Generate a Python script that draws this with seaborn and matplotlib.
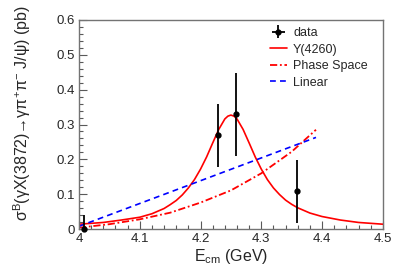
import numpy as np
import pandas as pd
import seaborn as sns
import matplotlib.pyplot as plt
from matplotlib.ticker import MultipleLocator, FuncFormatter

# measured points
energy = [4.009, 4.229, 4.259, 4.359]
xsec = [0.0, 0.269, 0.329, 0.108]
xsec_err = [0.04, 0.09, 0.12, 0.09]

# Y(4260) fit curve
y4260_e = [4.00, 4.04, 4.07, 4.10, 4.12, 4.14, 4.15, 4.16, 4.17, 4.18, 4.19, 4.20, 4.21,
           4.22, 4.23, 4.24, 4.245, 4.25, 4.255, 4.26, 4.27, 4.28, 4.29, 4.30, 4.31,
           4.32, 4.33, 4.34, 4.35, 4.36, 4.38, 4.40, 4.43, 4.46, 4.50]
y4260_v = [0.014, 0.019, 0.026, 0.034, 0.044, 0.059, 0.070, 0.082, 0.098, 0.118, 0.142,
           0.172, 0.207, 0.247, 0.286, 0.316, 0.324, 0.327, 0.324, 0.316, 0.286, 0.247,
           0.207, 0.172, 0.142, 0.118, 0.099, 0.083, 0.071, 0.061, 0.046, 0.036, 0.026,
           0.019, 0.014]

# phase space curve
ps_e = [4.00, 4.05, 4.10, 4.15, 4.20, 4.25, 4.30, 4.35, 4.39]
ps_v = [0.004, 0.014, 0.028, 0.047, 0.076, 0.111, 0.160, 0.222, 0.285]

# linear curve
lin_e = [4.00, 4.39]
lin_v = [0.008, 0.263]

sns.set_style('white')
plt.rcParams['font.family'] = ['Liberation Sans', 'DejaVu Sans']
plt.rcParams['mathtext.fontset'] = 'custom'
plt.rcParams['mathtext.rm'] = 'Liberation Sans'
plt.rcParams['mathtext.it'] = 'Liberation Sans:italic'

fig = plt.figure(figsize=(4.03, 2.77), dpi=100, facecolor='w')
ax = fig.add_axes([0.196, 0.173, 0.754, 0.755])

df_bw = pd.DataFrame({'E': y4260_e, 'sigma': y4260_v})
df_ps = pd.DataFrame({'E': ps_e, 'sigma': ps_v})
df_lin = pd.DataFrame({'E': lin_e, 'sigma': lin_v})

sns.lineplot(data=df_bw, x='E', y='sigma', color='red', lw=1.2, ax=ax)
l_bw = ax.lines[-1]
sns.lineplot(data=df_ps, x='E', y='sigma', color='red', lw=1.3, ax=ax)
l_ps = ax.lines[-1]
l_ps.set_dashes([4, 1.5, 1, 1.5])
sns.lineplot(data=df_lin, x='E', y='sigma', color='blue', lw=1.2, ax=ax)
l_lin = ax.lines[-1]
l_lin.set_dashes([3.5, 2.5])

eb = ax.errorbar(energy, xsec, yerr=xsec_err, xerr=[0, 0, 0, 0], fmt='o', color='black',
                 ms=3.5, elinewidth=1.3, capsize=0, zorder=5)
eb[0].set_clip_on(False)

ax.set_xlim(4.0, 4.5)
ax.set_ylim(0, 0.6)
ax.xaxis.set_major_locator(MultipleLocator(0.1))
ax.xaxis.set_minor_locator(MultipleLocator(0.02))
ax.yaxis.set_major_locator(MultipleLocator(0.1))
ax.yaxis.set_minor_locator(MultipleLocator(0.02))
fmt = FuncFormatter(lambda v, p: f'{v:g}')
ax.xaxis.set_major_formatter(fmt)
ax.yaxis.set_major_formatter(fmt)
ax.tick_params(which='both', direction='in', color='0.35', labelsize=9.5, pad=3,
               bottom=True, left=True, top=False, right=False)
ax.tick_params(which='major', length=6, width=0.8)
ax.tick_params(which='minor', length=3, width=0.8)
for s in ax.spines.values():
    s.set_color('0.45')
    s.set_linewidth(1.0)

ax.set_xlabel(r'E$_{\mathregular{cm}}$ (GeV)', fontsize=11.5, labelpad=1)
ax.set_ylabel('σ$^{\\mathregular{B}}$(γX(3872)→γπ$^{+}$π$^{-}$ J/ψ) (pb)', fontsize=11.5)
ax.yaxis.set_label_coords(-0.15, 0.555)

ax.legend([eb, l_bw, l_ps, l_lin], ['data', 'Y(4260)', 'Phase Space', 'Linear'],
          loc='upper left', bbox_to_anchor=(0.670, 0.9025), bbox_transform=fig.transFigure,
          frameon=False, fontsize=9, handlelength=1.35, handletextpad=0.5,
          labelspacing=0.36, borderpad=0, borderaxespad=0)

plt.savefig('out.png', dpi=100, facecolor='w')
